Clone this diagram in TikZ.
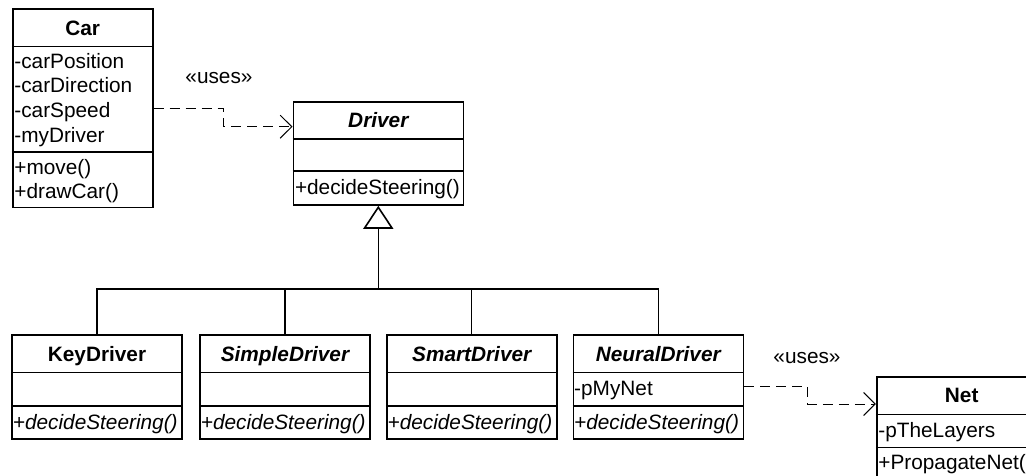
\documentclass[tikz,border=0pt]{standalone}
\usepackage{fontspec}
\setmainfont{Liberation Sans}
\usetikzlibrary{arrows.meta,calc}
\newcommand\umlfs{\fontsize{20.8}{25}\selectfont}
\tikzset{
  classbox/.style={draw, line width=1.6pt, rectangle, inner sep=0pt},
  compsep/.style={line width=1.6pt},
  titletext/.style={anchor=base, inner sep=0pt, font=\umlfs\bfseries},
  abstitle/.style={anchor=base, inner sep=0pt, font=\umlfs\bfseries\itshape},
  rowtext/.style={anchor=base west, inner sep=0pt, font=\umlfs},
  absrow/.style={anchor=base west, inner sep=0pt, font=\umlfs\itshape},
  stereo/.style={anchor=base, inner sep=0pt, font=\umlfs},
  uses/.style={line width=1pt, dash pattern=on 10pt off 6pt,
    -{Straight Barb[length=11.6pt, width=23pt, line width=1pt]}},
  genline/.style={line width=1.1pt},
  genhead/.style={line width=1.6pt,
    -{Triangle[open, length=23pt, width=30pt, line width=1.6pt]}}
}
\begin{document}
\begin{tikzpicture}[x=1pt, y=-1pt]
\useasboundingbox (0,0) rectangle (1026,476);
\fill[white] (0,0) rectangle (1026,476);
\clip (0,0) rectangle (1026,476);

% ---- Car ----
\node[classbox, minimum width=140pt, minimum height=198pt] (Car) at (82.7,108.3) {};
\draw[compsep] (Car.west |- 0,46.7) -- (Car.east |- 0,46.7);
\draw[compsep] (Car.west |- 0,152.3) -- (Car.east |- 0,152.3);
\node[titletext] (carT) at (82.7,35.5) {Car};
\node[rowtext] (carA1) at (14.2,68.3) {-carPosition};
\node[rowtext] (carA2) at (14.2,93) {-carDirection};
\node[rowtext] (carA3) at (14.2,117.7) {-carSpeed};
\node[rowtext] (carA4) at (14.2,142.3) {-myDriver};
\node[rowtext] (carM1) at (14.2,174.3) {+move()};
\node[rowtext] (carM2) at (14.2,199) {+drawCar()};

% ---- Driver ----
\node[classbox, minimum width=170pt, minimum height=103pt] (Driver) at (378.3,153.5) {};
\draw[compsep] (Driver.west |- 0,139) -- (Driver.east |- 0,139);
\draw[compsep] (Driver.west |- 0,171) -- (Driver.east |- 0,171);
\node[abstitle] (drvT) at (378.3,127.5) {Driver};
\node[rowtext] (drvM) at (294.8,195) {+decideSteering()};

% ---- subclasses ----
\foreach \nm/\cx/\ttl/\sty in {KeyDriver/97/KeyDriver/titletext,
    SimpleDriver/285/SimpleDriver/abstitle,
    SmartDriver/471.7/SmartDriver/abstitle,
    NeuralDriver/658.3/NeuralDriver/abstitle}{
  \node[classbox, minimum width=170pt, minimum height=103.7pt] (\nm) at (\cx,386.85) {};
  \draw[compsep] (\nm.west |- 0,372.3) -- (\nm.east |- 0,372.3);
  \draw[compsep] (\nm.west |- 0,405.7) -- (\nm.east |- 0,405.7);
  \node[\sty] (\nm T) at (\cx,361) {\ttl};
  \node[absrow] (\nm M) at ([xshift=1.5pt]\nm.west |- 0,429) {+decideSteering()};
}
\node[rowtext] (neuA) at ([xshift=1.5pt]NeuralDriver.west |- 0,395.5) {-pMyNet};

% ---- Net ----
\node[classbox, minimum width=170pt, minimum height=104.3pt] (Net) at (961.7,428.85) {};
\draw[compsep] (Net.west |- 0,414.3) -- (Net.east |- 0,414.3);
\draw[compsep] (Net.west |- 0,447.3) -- (Net.east |- 0,447.3);
\node[titletext] (netT) at (961.7,402.5) {Net};
\node[rowtext] (netA) at (878.2,437.8) {-pTheLayers};
\node[rowtext] (netM) at (878.2,469.5) {+PropagateNet()};

% ---- dependencies ----
\coordinate (drvIn) at (Driver.west |- 0,126.7);
\draw[uses] (Car.east) -- ++(70,0) |- (drvIn);
\node[stereo] (uses1) at (219,83.3) {«uses»};

\coordinate (netIn) at (Net.west |- 0,404);
\draw[uses] (NeuralDriver.east) -- ++(63.4,0) |- (netIn);
\node[stereo] (uses2) at (807,363.3) {«uses»};

% ---- generalization ----
\coordinate (bus) at (378.3,289);
\draw[genline] (KeyDriver.north) -- (KeyDriver.north |- bus)
  -- (NeuralDriver.north |- bus) -- (NeuralDriver.north);
\draw[genline] (SimpleDriver.north) -- (SimpleDriver.north |- bus);
\draw[genline] (SmartDriver.north) -- (SmartDriver.north |- bus);
\draw[genhead] (bus) -- (Driver.south);
\end{tikzpicture}
\end{document}
